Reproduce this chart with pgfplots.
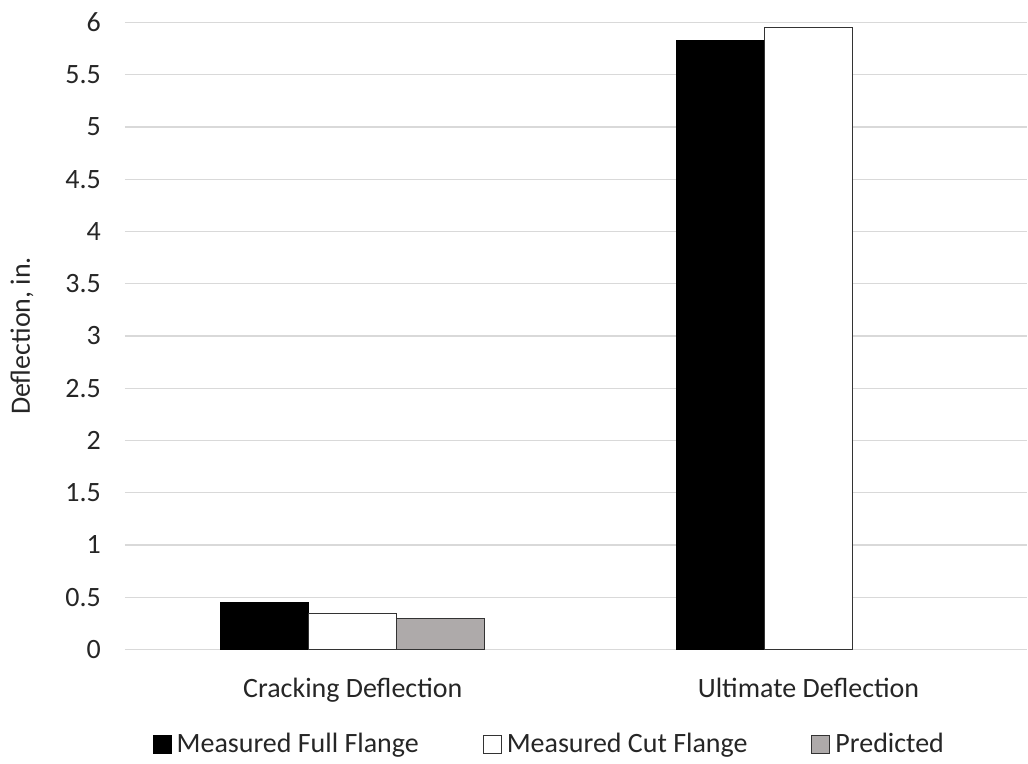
\documentclass[border=0pt]{standalone}
\usepackage{pgfplots}
\pgfplotsset{compat=1.18}
\usepackage{fontspec}
\setmainfont{Carlito}
\definecolor{gridgray}{HTML}{D9D9D9}
\definecolor{predgray}{HTML}{AEAAAA}
\definecolor{txt}{HTML}{262626}
\begin{document}
\begin{tikzpicture}
\begin{axis}[
    scale only axis,
    width=451.5pt, height=313.75pt,
    xmin=-0.5, xmax=1.48,
    ymin=0, ymax=6,
    ytick={0,0.5,...,6},
    xtick={0,1},
    xticklabels={Cracking Deflection, Ultimate Deflection},
    ybar=0pt, bar width=44pt,
    axis line style={draw=none},
    major tick length=0pt,
    ymajorgrids, grid style={gridgray, line width=0.6pt},
    extra y ticks={0}, extra y tick labels={},
    extra y tick style={grid style={gridgray, line width=0.8pt}},
    tick label style={font=\fontsize{14}{17}\selectfont, text=txt},
    /pgf/number format/assume math mode=true,
    yticklabel style={xshift=-8.5pt},
    xticklabel style={yshift=-11pt},
    ylabel={Deflection, in.},
    every axis y label/.style={at={(axis description cs:-0.114,0.5)}, rotate=90, anchor=center,
        font=\fontsize{14}{17}\selectfont, text=txt},
    legend style={at={(0.472,0)}, anchor=center, yshift=-47.5pt, draw=none,
        legend columns=3, font=\fontsize{14}{17}\selectfont, text=txt,
        /tikz/every even column/.append style={column sep=29.5pt},
        /tikz/every odd column/.append style={column sep=0pt},
        nodes={inner xsep=2.5pt}},
    legend image code/.code={\draw[#1, line width=0.5pt] (0pt,-4.5pt) rectangle (9pt,4.5pt);},
]
\addplot[fill=black, draw=black] coordinates {(0,0.45) (1,5.83)};
\addplot[fill=white, draw=black!80] coordinates {(0,0.35) (1,5.95)};
\addplot[fill=predgray, draw=black!80] coordinates {(0,0.30)};
\legend{Measured Full Flange, Measured Cut Flange, Predicted}
\end{axis}
\path[use as bounding box] (-62.5pt,-55.5pt) rectangle (451.5pt,325pt);
\end{tikzpicture}
\end{document}
